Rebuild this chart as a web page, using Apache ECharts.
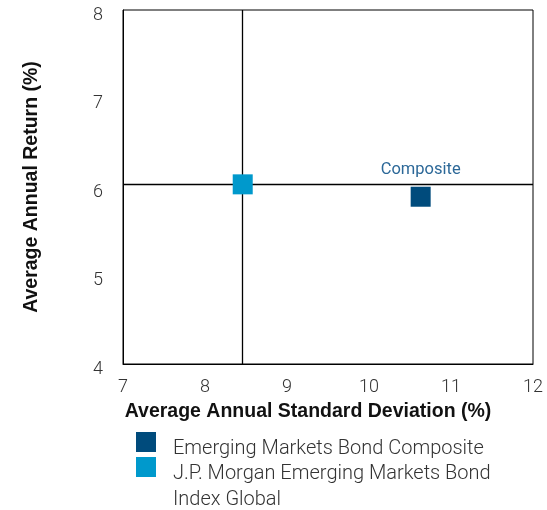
<!DOCTYPE html>
<html>
<head>
<meta charset="utf-8">
<script src="https://cdn.jsdelivr.net/npm/echarts@6/dist/echarts.min.js"></script>
<style>html,body{margin:0;padding:0;background:#fff}#c{width:547px;height:510px}</style>
</head>
<body>
<div id="c"></div>
<script>
var seriesNames = ['Emerging Markets Bond Composite', 'J.P. Morgan Emerging Markets Bond Index Global'];
var compositePoint = [10.63, 5.89];
var benchmarkPoint = [8.46, 6.03];
var xTicks = [7, 8, 9, 10, 11, 12];
var yTicks = [4, 5, 6, 7, 8];
var pointLabel = 'Composite';

var FONT = 'Roboto';
// legend square drawn in the top 20px of a taller icon box, so the text sits slightly lower
var LEGEND_ICON = 'path://M0,0H20V20H0Z M0,34H0.01V34.01H0Z';
var chart = echarts.init(document.getElementById('c'));
chart.setOption({
  animation: false,
  grid: {left: 123, right: 14, top: 10, bottom: 146, show: true, borderColor: '#000', borderWidth: 1},
  xAxis: {
    type: 'value', min: xTicks[0], max: xTicks[xTicks.length - 1], interval: 1,
    splitLine: {show: false}, axisTick: {show: false},
    axisLine: {show: true, lineStyle: {color: '#000', width: 1}},
    axisLabel: {color: '#333', fontSize: 18, fontFamily: FONT, fontWeight: 300, margin: 14},
    name: 'Average Annual Standard Deviation (%)', nameLocation: 'middle', nameGap: 38,
    nameTextStyle: {color: '#111', fontSize: 19.5, fontWeight: 'bold', fontFamily: 'Liberation Sans',
      padding: [0, 40, 0, 0]}
  },
  yAxis: {
    type: 'value', min: yTicks[0], max: yTicks[yTicks.length - 1], interval: 1,
    splitLine: {show: false}, axisTick: {show: false},
    axisLine: {show: true, lineStyle: {color: '#000', width: 1}},
    axisLabel: {color: '#333', fontSize: 18, fontFamily: FONT, fontWeight: 300, margin: 20,
      verticalAlign: 'top', lineHeight: 10},
    name: 'Average Annual Return (%)', nameLocation: 'middle', nameGap: 81, nameRotate: 90,
    nameTextStyle: {color: '#111', fontSize: 19.5, fontWeight: 'bold', fontFamily: 'Liberation Sans'}
  },
  legend: {
    orient: 'vertical', left: 136, top: 432, padding: 0, itemWidth: 20, itemHeight: 34, itemGap: -9,
    icon: LEGEND_ICON,
    formatter: function (n) { return n === seriesNames[1] ? 'J.P. Morgan Emerging Markets Bond' : n; },
    textStyle: {color: '#333', fontSize: 20, lineHeight: 20, fontFamily: FONT, fontWeight: 300, padding: [0, 0, 0, 12]}
  },
  graphic: [{
    type: 'text', left: 173, top: 490,
    style: {text: 'Index Global', fill: '#333', fontSize: 20, lineHeight: 20, fontFamily: FONT, fontWeight: 300}
  }],
  series: [
    {
      name: seriesNames[0], type: 'scatter', symbol: 'rect', symbolSize: 20,
      itemStyle: {color: '#004b7c', opacity: 1},
      data: [compositePoint],
      label: {show: true, position: 'top', distance: 8, formatter: pointLabel,
        color: '#2c6898', fontSize: 16.5, fontFamily: FONT}
    },
    {
      name: seriesNames[1], type: 'scatter', symbol: 'rect', symbolSize: 20,
      itemStyle: {color: '#0099cc', opacity: 1},
      data: [benchmarkPoint],
      z: 3,
      markLine: {
        silent: true, symbol: ['none', 'none'], label: {show: false},
        lineStyle: {color: '#000', width: 1.3, type: 'solid'},
        z: 1,
        data: [{xAxis: benchmarkPoint[0]}, {yAxis: benchmarkPoint[1]}]
      }
    }
  ]
});
</script>
</body>
</html>
